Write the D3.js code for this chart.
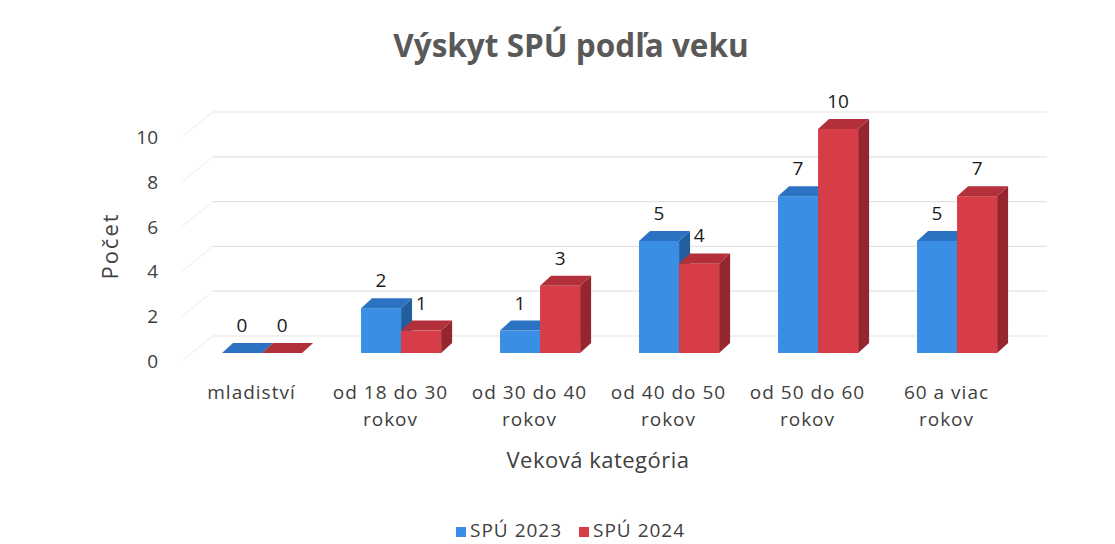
<!DOCTYPE html>
<html>
<head>
<meta charset="utf-8">
<script src="https://cdn.jsdelivr.net/npm/d3@7.9.0/dist/d3.min.js"></script>
<style>
  body { margin: 0; background: #fff; }
  svg text { font-family: "Open Sans", Lato, sans-serif; }
</style>
</head>
<body>
<svg width="1115" height="544"></svg>
<script>
// data
const categories = [
    ["mladiství"],
    ["od 18 do 30", "rokov"],
    ["od 30 do 40", "rokov"],
    ["od 40 do 50", "rokov"],
    ["od 50 do 60", "rokov"],
    ["60 a viac", "rokov"]
];
const seriesNames = ["SPÚ 2023", "SPÚ 2024"];
const values2023 = [0, 2, 1, 5, 7, 5];
const values2024 = [0, 1, 3, 4, 10, 7];
const yTicks = [0, 2, 4, 6, 8, 10];

const colors = {
    "SPÚ 2023": { front: "#3a8ee6", top: "#2c72c2", side: "#215f9c" },
    "SPÚ 2024": { front: "#d63d46", top: "#b1303a", side: "#952630" }
};

let svg = d3.select("svg");

let catKeys = categories.map((c) => c.join(" "));
let x = d3.scaleBand().domain(catKeys).range([182, 1016]);
let y = d3.scaleLinear().domain([0, 10]).range([353, 129]);

// wall depth and bar depth (3D look)
const wallDx = 31, wallDy = 25;
const barDx = 11, barDy = 10;

// gridlines on back and side walls
let grid = svg.append("g");
yTicks.forEach((t) => {
    let yb = y(t) - 17;
    grid.append("line")
        .attr("x1", 182 + wallDx).attr("x2", 1047)
        .attr("y1", yb).attr("y2", yb)
        .attr("stroke", "#e3e3e3").attr("stroke-width", 1.2);
    grid.append("line")
        .attr("x1", 182).attr("y1", yb + wallDy)
        .attr("x2", 182 + wallDx).attr("y2", yb)
        .attr("stroke", "#ececec").attr("stroke-width", 1);
});

// y tick labels
svg.append("g").selectAll("text")
    .data(yTicks)
    .enter()
    .append("text")
    .attr("x", 158)
    .attr("y", (d) => y(d) + 10)
    .attr("text-anchor", "end")
    .attr("dominant-baseline", "middle")
    .attr("font-size", 19)
    .attr("fill", "#404040")
    .text((d) => d);

// bars
let rows = [];
catKeys.forEach((k, i) => {
    rows.push({ cat: k, series: seriesNames[0], value: values2023[i], s: 0 });
    rows.push({ cat: k, series: seriesNames[1], value: values2024[i], s: 1 });
});

let bw = x.bandwidth() * 0.288;
let barX = (d) => x(d.cat) + x.bandwidth() * 0.288 + d.s * bw;

let bars = svg.append("g");
rows.forEach((d) => {
    let x0 = barX(d), x1 = x0 + bw;
    let yt = y(d.value), yb = y(0);
    let c = colors[d.series];
    let g = bars.append("g");
    if (d.value > 0) {
        g.append("path")
            .attr("d", `M${x1},${yb}L${x1 + barDx},${yb - barDy}L${x1 + barDx},${yt - barDy}L${x1},${yt}Z`)
            .attr("fill", c.side);
        g.append("rect")
            .attr("x", x0).attr("y", yt)
            .attr("width", bw).attr("height", yb - yt)
            .attr("fill", c.front);
    }
    g.append("path")
        .attr("d", `M${x0},${yt}L${x0 + barDx},${yt - barDy}L${x1 + barDx},${yt - barDy}L${x1},${yt}Z`)
        .attr("fill", c.top);
});

// value labels
svg.append("g").selectAll("text")
    .data(rows)
    .enter()
    .append("text")
    .attr("x", (d) => barX(d) + bw / 2)
    .attr("y", (d) => y(d.value) - 26)
    .attr("text-anchor", "middle")
    .attr("dominant-baseline", "middle")
    .attr("font-size", 19)
    .attr("fill", "#1a1a1a")
    .text((d) => d.value);

// category labels
let catLabels = svg.append("g").selectAll("text")
    .data(categories)
    .enter()
    .append("text")
    .attr("x", (d, i) => x(catKeys[i]) + x.bandwidth() / 2)
    .attr("y", 399)
    .attr("text-anchor", "middle")
    .attr("font-size", 19)
    .attr("letter-spacing", 1)
    .attr("fill", "#404040");
catLabels.each(function(d) {
    let t = d3.select(this);
    d.forEach((line, j) => {
        t.append("tspan")
            .attr("x", t.attr("x"))
            .attr("dy", j === 0 ? 0 : 27)
            .text(line);
    });
});

// axis titles
svg.append("text")
    .attr("x", 598).attr("y", 468)
    .attr("text-anchor", "middle")
    .attr("font-size", 22)
    .attr("letter-spacing", 0.5)
    .attr("fill", "#404040")
    .text("Veková kategória");

svg.append("text")
    .attr("transform", "translate(118,246) rotate(-90)")
    .attr("text-anchor", "middle")
    .attr("font-size", 22)
    .attr("letter-spacing", 2)
    .attr("fill", "#404040")
    .text("Počet");

// title
svg.append("text")
    .attr("x", 571).attr("y", 57)
    .attr("text-anchor", "middle")
    .attr("font-size", 31.5)
    .attr("font-weight", "bold")
    .attr("fill", "#595959")
    .text("Výskyt SPÚ podľa veku");

// legend
let legend = svg.append("g");
let legendX = [456, 579];
seriesNames.forEach((name, i) => {
    legend.append("rect")
        .attr("x", legendX[i]).attr("y", 527)
        .attr("width", 10).attr("height", 10)
        .attr("fill", colors[name].front);
    legend.append("text")
        .attr("x", legendX[i] + 14).attr("y", 537)
        .attr("font-size", 19)
        .attr("letter-spacing", 1)
        .attr("fill", "#404040")
        .text(name);
});
</script>
</body>
</html>
